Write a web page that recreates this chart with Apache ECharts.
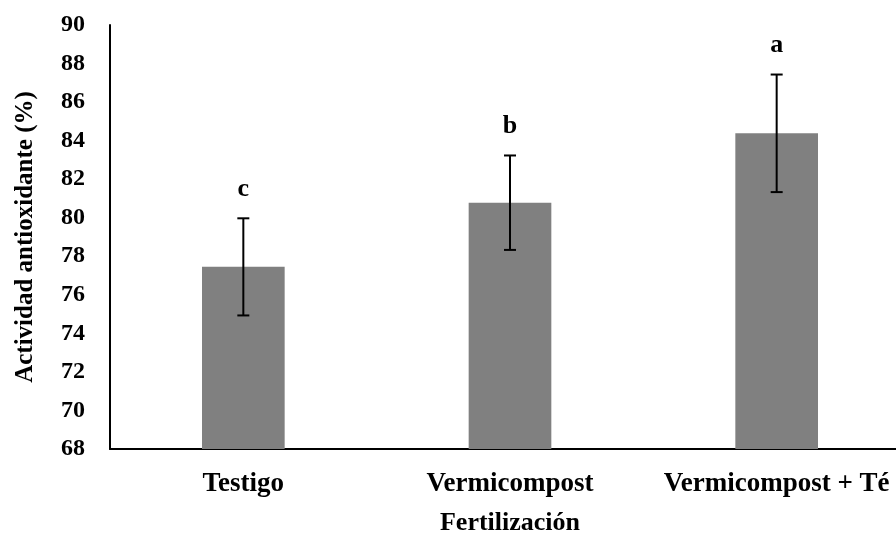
<!DOCTYPE html>
<html>
<head>
<meta charset="utf-8">
<script src="https://cdn.jsdelivr.net/npm/echarts@6/dist/echarts.min.js"></script>
<style>html,body{margin:0;padding:0;background:#fff;overflow:hidden;width:896px;height:538px}#c{width:910px;height:538px}</style>
</head>
<body>
<div id="c"></div>
<script>
var categories = ['Testigo', 'Vermicompost', 'Vermicompost + Té'];
var means = [77.45, 80.78, 84.38];
var errors = [2.52, 2.45, 3.05];
var letters = ['c', 'b', 'a'];
var yTicks = { min: 68, max: 90, interval: 2 };

var FONT = '"Liberation Serif", "Times New Roman", serif';
var chart = echarts.init(document.getElementById('c'), null, { renderer: 'canvas' });

var errData = categories.map(function (c, i) {
  return [i, means[i] - errors[i], means[i] + errors[i], letters[i]];
});

chart.setOption({
  animation: false,
  backgroundColor: '#fff',
  grid: { left: 110, top: 25, bottom: 89, right: 0, containLabel: false, outerBoundsMode: 'none' },
  xAxis: {
    type: 'category',
    data: categories,
    name: 'Fertilización',
    nameLocation: 'middle',
    nameGap: 61,
    nameTextStyle: { fontFamily: FONT, fontWeight: 'bold', fontSize: 26, color: '#000' },
    axisLine: { show: true, lineStyle: { color: '#000', width: 2 } },
    axisTick: { show: false },
    axisLabel: { interval: 0, fontFamily: FONT, fontWeight: 'bold', fontSize: 27, color: '#000', margin: 22 },
    splitLine: { show: false }
  },
  yAxis: {
    type: 'value',
    min: yTicks.min, max: yTicks.max, interval: yTicks.interval,
    name: 'Actividad antioxidante (%)',
    nameLocation: 'middle',
    nameGap: 72,
    nameTextStyle: { fontFamily: FONT, fontWeight: 'bold', fontSize: 25, color: '#000' },
    axisLine: { show: true, lineStyle: { color: '#000', width: 2 } },
    axisTick: { show: false },
    axisLabel: { fontFamily: FONT, fontWeight: 'bold', fontSize: 24, color: '#000', margin: 25 },
    splitLine: { show: false }
  },
  series: [
    {
      type: 'bar',
      data: means,
      barWidth: '31%',
      itemStyle: { color: '#808080' },
      z: 2
    },
    {
      type: 'custom',
      data: errData,
      z: 5,
      renderItem: function (params, api) {
        var x = api.value(0);
        var lo = api.coord([x, api.value(1)]);
        var hi = api.coord([x, api.value(2)]);
        var hw = 6;
        var st = { stroke: '#000', lineWidth: 2 };
        return {
          type: 'group',
          children: [
            { type: 'line', shape: { x1: hi[0], y1: hi[1], x2: lo[0], y2: lo[1] }, style: st },
            { type: 'line', shape: { x1: hi[0] - hw, y1: hi[1], x2: hi[0] + hw, y2: hi[1] }, style: st },
            { type: 'line', shape: { x1: lo[0] - hw, y1: lo[1], x2: lo[0] + hw, y2: lo[1] }, style: st },
            { type: 'text', style: { text: api.value(3), x: hi[0], y: hi[1] - 29, align: 'center', verticalAlign: 'middle', font: 'bold 26px ' + FONT, fill: '#000' } }
          ]
        };
      }
    }
  ]
});
</script>
</body>
</html>
